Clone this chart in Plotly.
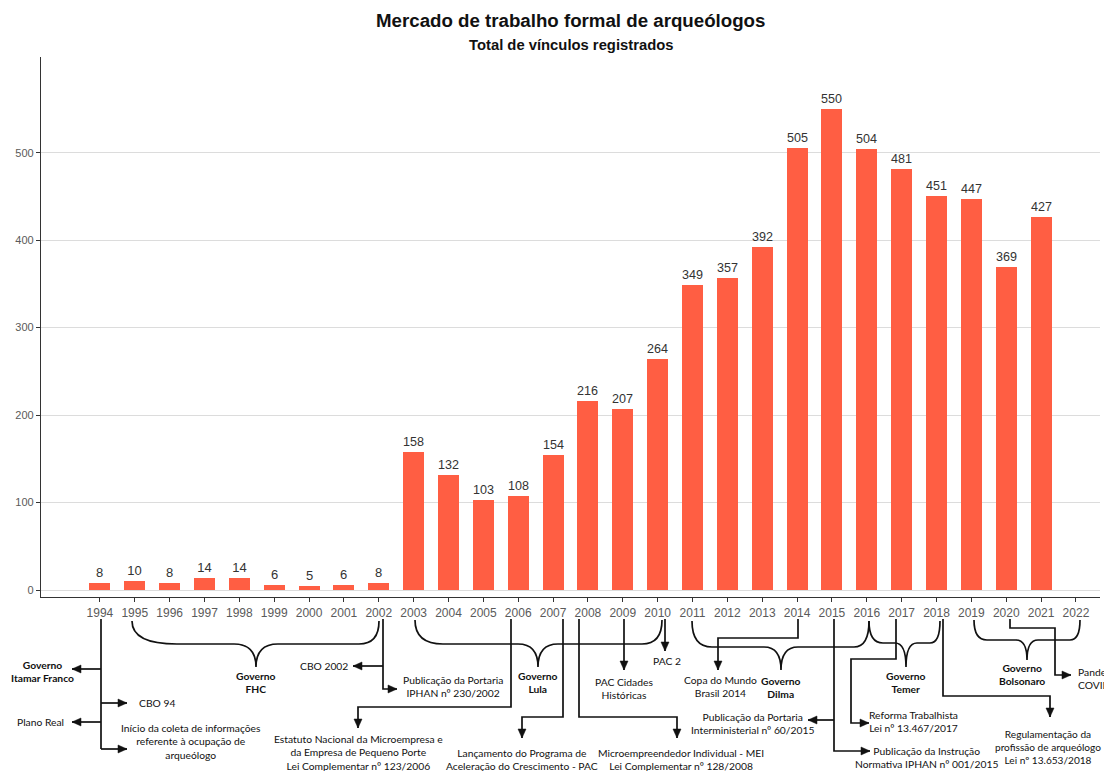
import plotly.graph_objects as go

# ---------------- data ----------------
years = [1994, 1995, 1996, 1997, 1998, 1999, 2000, 2001, 2002, 2003, 2004, 2005,
         2006, 2007, 2008, 2009, 2010, 2011, 2012, 2013, 2014, 2015, 2016, 2017,
         2018, 2019, 2020, 2021, 2022]
vinculos = [8, 10, 8, 14, 14, 6, 5, 6, 8, 158, 132, 103, 108, 154, 216, 207, 264,
            349, 357, 392, 505, 550, 504, 481, 451, 447, 369, 427, None]
y_ticks = [0, 100, 200, 300, 400, 500]

title = "Mercado de trabalho formal de arqueólogos"
subtitle = "Total de vínculos registrados"

# ---------------- layout geometry ----------------
W, H = 1104, 771
ML, MR, MT, MB = 41, 4, 57, 174
PW, PH = W - ML - MR, H - MT - MB
XR = [1992.31, 2022.69]
YR = [-8, 609.4]

def X(px):
    return XR[0] + (px - ML) / PW * (XR[1] - XR[0])

def P(py):
    return (H - MB - py) / PH

BAR = "#FF5E43"
INK = "#111111"
AFONT = "Lato, Carlito, Calibri, Open Sans, sans-serif"

fig = go.Figure()
fig.add_trace(go.Bar(
    x=years, y=vinculos, width=0.6, marker=dict(color=BAR, line=dict(width=0)),
    text=[("" if v is None else str(v)) for v in vinculos],
    textposition="outside", cliponaxis=False,
    textfont=dict(family="Liberation Sans, Arial", size=13, color="#333333"),
    hoverinfo="x+y",
))

shapes = []
annots = []

def poly(pts):
    d = "M " + " L ".join(f"{X(a):.4f},{P(b):.5f}" for a, b in pts)
    shapes.append(dict(type="path", xref="x", yref="paper", path=d,
                       line=dict(color=INK, width=1.7), layer="above"))

def head(x, y, direc, L=9, w=4):
    if direc == "r":
        pts = [(x, y), (x - L, y - w), (x - L, y + w)]
    elif direc == "l":
        pts = [(x, y), (x + L, y - w), (x + L, y + w)]
    else:  # down
        pts = [(x, y), (x - w, y - L), (x + w, y - L)]
    d = "M " + " L ".join(f"{X(a):.4f},{P(b):.5f}" for a, b in pts) + " Z"
    shapes.append(dict(type="path", xref="x", yref="paper", path=d,
                       fillcolor=INK, line=dict(color=INK, width=0.5), layer="above"))

def arrow(pts, direc):
    poly(pts)
    head(pts[-1][0], pts[-1][1], direc)

def brace(xl, xr, xc, yt, ym, ytip, rcl, rcr, rt):
    f = lambda a, b: f"{X(a):.4f},{P(b):.5f}"
    d = (f"M {f(xl, yt)} Q {f(xl, ym)} {f(xl + rcl, ym)} L {f(xc - rt, ym)} "
         f"Q {f(xc, ym)} {f(xc, ytip)} Q {f(xc, ym)} {f(xc + rt, ym)} "
         f"L {f(xr - rcr, ym)} Q {f(xr, ym)} {f(xr, yt)}")
    shapes.append(dict(type="path", xref="x", yref="paper", path=d,
                       line=dict(color=INK, width=1.7), layer="above"))

def label(px, py, text, anchor="center", bold=False, size=10.3):
    annots.append(dict(x=X(px), y=P(py), xref="x", yref="paper", text=text,
                       showarrow=False, xanchor=anchor, yanchor="middle",
                       align=anchor if anchor != "center" else "center",
                       font=dict(family=AFONT, size=size, color=INK,
                                 weight="bold" if bold else "normal")))

# ---- government braces ----
brace(132, 379, 256, 621, 644, 667, 45, 20, 22)
brace(415, 662, 538, 620, 644, 667, 28, 20, 20)
brace(692, 869, 781, 621, 647, 670, 20, 15, 17)
brace(869, 940, 906, 621, 643, 667, 14, 10, 11)
brace(974, 1080, 1027, 620, 640, 660, 13, 10, 11)

label(42, 671, "Governo<br>Itamar Franco", bold=True)
label(256, 682, "Governo<br>FHC", bold=True)
label(538, 682, "Governo<br>Lula", bold=True)
label(781, 687, "Governo<br>Dilma", bold=True)
label(906, 682, "Governo<br>Temer", bold=True)
label(1022, 674, "Governo<br>Bolsonaro", bold=True)

# ---- event connectors ----
poly([(101, 619), (101, 749)])
arrow([(101, 669), (72, 669)], "l")
arrow([(101, 703), (127, 703)], "r")
arrow([(101, 722), (72, 722)], "l")
arrow([(101, 749), (127, 749)], "r")

arrow([(383, 619), (383, 689), (397, 689)], "r")
arrow([(383, 666), (353, 666)], "l")

arrow([(511, 619), (511, 707), (358, 707), (358, 728)], "d")
arrow([(563, 619), (563, 717), (522, 717), (522, 738)], "d")
arrow([(579, 619), (579, 717), (677, 717), (677, 738)], "d")
arrow([(624, 619), (624, 670)], "d")
arrow([(665, 619), (665, 651)], "d")
arrow([(798, 619), (798, 638), (718, 638), (718, 670)], "d")
arrow([(834, 619), (834, 751), (870, 751)], "r")
arrow([(834, 720), (808, 720)], "l")
arrow([(896, 619), (896, 659), (851, 659), (851, 723), (869, 723)], "r")
arrow([(943, 619), (943, 696), (1050, 696), (1050, 717)], "d")
arrow([(1010, 619), (1010, 628), (1055, 628), (1055, 675), (1071, 675)], "r")

# ---- event texts ----
label(137, 703, "CBO 94", anchor="left")
label(66, 722, "Plano Real", anchor="right")
label(191, 741, "Início da coleta de informações<br>referente à ocupação de<br>arqueólogo")
label(350, 666, "CBO 2002", anchor="right")
label(453, 686, "Publicação da Portaria<br>IPHAN nº 230/2002")
label(358, 753, "Estatuto Nacional da Microempresa e<br>da Empresa de Pequeno Porte<br>Lei Complementar nº 123/2006")
label(522, 759.5, "Lançamento do Programa de<br>Aceleração do Crescimento - PAC")
label(681, 759.5, "Microempreendedor Individual - MEI<br>Lei Complementar nº 128/2008")
label(624, 688, "PAC Cidades<br>Históricas")
label(667, 661, "PAC 2")
label(720, 686.5, "Copa do Mundo<br>Brasil 2014")
label(752, 723, "Publicação da Portaria<br>Interministerial nº 60/2015")
label(926, 757.5, "Publicação da Instrução<br>Normativa IPHAN nº 001/2015")
label(913, 721.5, "Reforma Trabalhista<br>Lei nº 13.467/2017")
label(1048, 747, "Regulamentação da<br>profissão de arqueólogo<br>Lei nº 13.653/2018", size=10.1)
label(1076, 678, "Pandemia<br>COVID-19", anchor="left")

# ---- titles ----
annots.append(dict(x=0.5, y=P(20), xref="paper", yref="paper", text=title,
                   showarrow=False, xanchor="center", yanchor="middle",
                   font=dict(family="Liberation Sans, Arial", size=18.7,
                             color="#111111", weight="bold")))
annots.append(dict(x=0.5, y=P(45), xref="paper", yref="paper", text=subtitle,
                   showarrow=False, xanchor="center", yanchor="middle",
                   font=dict(family="Liberation Sans, Arial", size=14.8,
                             color="#111111", weight="bold")))

fig.update_layout(
    width=W, height=H,
    margin=dict(l=ML, r=MR, t=MT, b=MB, pad=0),
    paper_bgcolor="white", plot_bgcolor="white",
    showlegend=False, bargap=0,
    shapes=shapes, annotations=annots,
    xaxis=dict(range=XR, tickmode="array", tickvals=years,
               ticktext=[str(y) for y in years], showgrid=False, zeroline=False,
               showline=True, linecolor="#333333", linewidth=1.3,
               ticks="outside", ticklen=4, tickcolor="#333333", tickwidth=1,
               tickfont=dict(family="Liberation Sans, Arial", size=12, color="#5a5a5a"),
               fixedrange=True),
    yaxis=dict(range=YR, tickmode="array", tickvals=y_ticks, showgrid=True,
               gridcolor="#dcdcdc", gridwidth=1, zeroline=False,
               showline=True, linecolor="#333333", linewidth=1.3,
               ticks="outside", ticklen=4, tickcolor="#333333", tickwidth=1,
               tickfont=dict(family="Liberation Sans, Arial", size=11, color="#5a5a5a"),
               fixedrange=True),
)

fig.write_html("out.html", config={"displayModeBar": False},
               post_script="document.body.style.margin='0';")
